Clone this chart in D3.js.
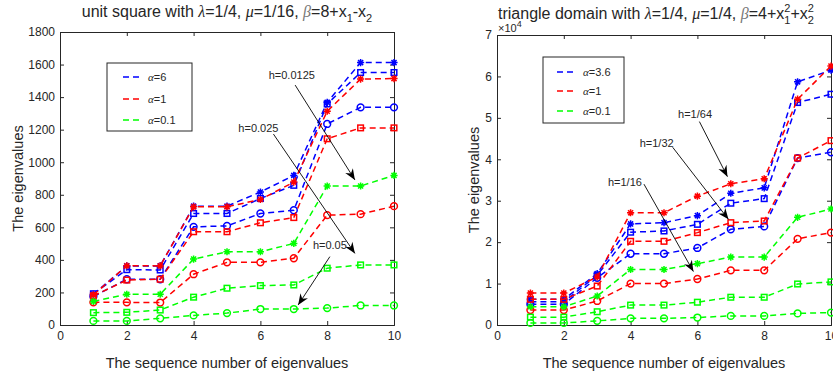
<!DOCTYPE html>
<html><head><meta charset="utf-8">
<script src="https://cdn.jsdelivr.net/npm/d3@7"></script>
<style>
body{margin:0;background:#fff;}
text{font-family:"Liberation Sans",Arial,sans-serif;fill:#262626;}
.greek{font-family:"Liberation Serif","DejaVu Serif",serif;font-style:italic;}
</style></head>
<body>
<svg id="chart" width="833" height="380"></svg>
<script>
// ---------- data ----------
const seqNumbers = [1,2,3,4,5,6,7,8,9,10];
const xTickValues = [0,2,4,6,8,10];
const squareYTicks = [0,200,400,600,800,1000,1200,1400,1600,1800];
const triangleYTicks = [0,1,2,3,4,5,6,7];

// unit square: alpha = 6 (blue), 1 (red), 0.1 (green); h = 0.0125 (star), 0.025 (square), 0.05 (circle)
const sqBlueStar    = [189,363,363,730,730,817,919,1368,1612,1612];
const sqBlueSquare  = [192,340,338,685,685,777,858,1358,1551,1551];
const sqBlueCircle  = [175,281,281,603,609,685,705,1235,1337,1337];
const sqRedStar     = [185,364,363,726,726,771,878,1313,1511,1514];
const sqRedSquare   = [179,276,281,573,573,628,660,1144,1211,1211];
const sqRedCircle   = [139,139,138,312,385,385,410,675,681,730];
const sqGreenStar   = [145,189,189,405,450,450,501,854,854,919];
const sqGreenSquare = [76,78,92,171,226,242,246,349,369,369];
const sqGreenCircle = [25,25,41,59,73,98,98,104,120,120];

// triangle: alpha = 3.6 (blue), 1 (red), 0.1 (green); h = 1/64 (star), 1/32 (square), 1/16 (circle); values x 10^4
const triBlueStar    = [0.62,0.62,1.24,2.44,2.47,2.64,3.18,3.31,5.87,6.15];
const triBlueSquare  = [0.56,0.56,1.20,2.24,2.27,2.43,2.94,3.05,5.37,5.57];
const triBlueCircle  = [0.50,0.50,1.14,1.72,1.72,1.86,2.31,2.38,4.03,4.17];
const triRedStar     = [0.77,0.77,1.16,2.71,2.71,3.11,3.41,3.53,5.45,6.25];
const triRedSquare   = [0.62,0.62,0.94,2.02,2.02,2.23,2.47,2.51,4.03,4.45];
const triRedCircle   = [0.36,0.36,0.58,1.00,1.00,1.11,1.32,1.32,2.08,2.23];
const triGreenStar   = [0.44,0.44,0.70,1.34,1.34,1.48,1.64,1.64,2.60,2.80];
const triGreenSquare = [0.19,0.19,0.32,0.48,0.48,0.55,0.67,0.67,0.99,1.04];
const triGreenCircle = [0.05,0.05,0.10,0.16,0.16,0.18,0.22,0.22,0.28,0.30];

const squareLegend   = ["6","1","0.1"];
const triangleLegend = ["3.6","1","0.1"];

// annotations in data units: label position, arrow start, arrow end
const squareNotes = [
  {label:"h=0.0125", tx:6.94, ty:1536, x1:7.04, y1:1474, x2:8.83, y2:891},
  {label:"h=0.025",  tx:5.94, ty:1208, x1:6.39, y1:1173, x2:8.83, y2:440},
  {label:"h=0.05",   tx:8.08, ty:491,  x1:8.08, y1:420,  x2:7.13, y2:123}
];
const triangleNotes = [
  {label:"h=1/64", tx:5.93, ty:5.09, x1:6.06, y1:4.91, x2:6.90, y2:3.58},
  {label:"h=1/32", tx:4.78, ty:4.39, x1:5.26, y1:4.29, x2:6.93, y2:2.55},
  {label:"h=1/16", tx:3.83, ty:3.46, x1:4.40, y1:3.40, x2:5.88, y2:1.29}
];

const BLUE="#0000ff", RED="#ff0000", GREEN="#00ff00";

// ---------- drawing ----------
const svg = d3.select("#chart");
svg.append("rect").attr("width",833).attr("height",380).attr("fill","#fff");

function starPath(r){
  const d = r*0.7071;
  return `M${-r},0L${r},0M0,${-r}L0,${r}M${-d},${-d}L${d},${d}M${-d},${d}L${d},${-d}`;
}

function drawPanel(cfg){
  const g = svg.append("g");
  const x = d3.scaleLinear().domain([0,10]).range([cfg.left,cfg.right]);
  const y = d3.scaleLinear().domain([0,cfg.yMax]).range([cfg.bottom,cfg.top]);

  const axB = g.append("g").attr("transform",`translate(0,${cfg.bottom})`)
    .call(d3.axisBottom(x).tickValues(xTickValues).tickSize(-4).tickPadding(6).tickFormat(d3.format("d")));
  const axT = g.append("g").attr("transform",`translate(0,${cfg.top})`)
    .call(d3.axisTop(x).tickValues(xTickValues).tickSize(-4).tickFormat(""));
  const axL = g.append("g").attr("transform",`translate(${cfg.left},0)`)
    .call(d3.axisLeft(y).tickValues(cfg.yTicks).tickSize(-4).tickPadding(5).tickFormat(d3.format("d")));
  const axR = g.append("g").attr("transform",`translate(${cfg.right},0)`)
    .call(d3.axisRight(y).tickValues(cfg.yTicks).tickSize(-4).tickFormat(""));
  [axB,axT,axL,axR].forEach(a=>{
    a.selectAll("path,line").attr("stroke","#262626").attr("stroke-width",1);
    a.selectAll("text").attr("font-size",12).attr("fill","#262626")
      .attr("font-family","'Liberation Sans',Arial,sans-serif");
  });

  const sg = g.append("g");
  const line = d3.line().x((d,i)=>x(seqNumbers[i])).y(d=>y(d));
  cfg.series.forEach(s=>{
    sg.append("path").attr("d",line(s.values)).attr("fill","none")
      .attr("stroke",s.color).attr("stroke-width",1.5).attr("stroke-dasharray","6,4");
    const mk = sg.append("g");
    s.values.forEach((v,i)=>{
      const px=x(seqNumbers[i]), py=y(v);
      if(s.marker==="circle"){
        mk.append("circle").attr("cx",px).attr("cy",py).attr("r",3.4)
          .attr("fill","none").attr("stroke",s.color).attr("stroke-width",1.5);
      } else if(s.marker==="square"){
        mk.append("rect").attr("x",px-2.8).attr("y",py-2.8).attr("width",5.6).attr("height",5.6)
          .attr("fill","none").attr("stroke",s.color).attr("stroke-width",1.5);
      } else {
        mk.append("path").attr("transform",`translate(${px},${py})`).attr("d",starPath(3.6))
          .attr("fill","none").attr("stroke",s.color).attr("stroke-width",1.5);
      }
    });
  });

  g.append("text").attr("x",(cfg.left+cfg.right)/2).attr("y",368).attr("text-anchor","middle")
    .attr("font-size",14.5).attr("fill","#333").text("The sequence number of eigenvalues");
  g.append("text").attr("transform",`translate(${cfg.ylabX},${(cfg.top+cfg.bottom)/2}) rotate(-90)`)
    .attr("text-anchor","middle").attr("font-size",14.5).attr("fill","#333").text("The eigenvalues");

  const lg = g.append("g");
  lg.append("rect").attr("x",cfg.legend.x).attr("y",cfg.legend.y).attr("width",cfg.legend.w).attr("height",cfg.legend.h)
    .attr("fill","#fff").attr("stroke","#262626").attr("stroke-width",1);
  const lcolors=[BLUE,RED,GREEN];
  cfg.legendLabels.forEach((lab,i)=>{
    const yy = cfg.legend.y + cfg.legend.rows[i];
    lg.append("line").attr("x1",cfg.legend.x+cfg.legend.l1).attr("x2",cfg.legend.x+cfg.legend.l2)
      .attr("y1",yy).attr("y2",yy).attr("stroke",lcolors[i]).attr("stroke-width",1.5).attr("stroke-dasharray","6,4");
    const t = lg.append("text").attr("x",cfg.legend.x+cfg.legend.tx).attr("y",yy+4).attr("font-size",11);
    t.append("tspan").attr("class","greek").attr("font-style","normal").text("α");
    t.append("tspan").text("="+lab);
  });

  cfg.notes.forEach(n=>{
    g.append("text").attr("x",x(n.tx)).attr("y",y(n.ty)+4).attr("text-anchor","middle")
      .attr("font-size",11).text(n.label);
    const ax1=x(n.x1), ay1=y(n.y1), ax2=x(n.x2), ay2=y(n.y2);
    g.append("line").attr("x1",ax1).attr("y1",ay1).attr("x2",ax2).attr("y2",ay2)
      .attr("stroke","#000").attr("stroke-width",0.9);
    const ang = Math.atan2(ay2-ay1, ax2-ax1)*180/Math.PI;
    g.append("path").attr("transform",`translate(${ax2},${ay2}) rotate(${ang})`)
      .attr("d","M0,0L-11,-4.5L-7.5,0L-11,4.5Z").attr("fill","#000");
  });
  return {x,y,g};
}

function mkSeries(b1,b2,b3,r1,r2,r3,g1,g2,g3){
  return [
    {values:b1,color:BLUE,marker:"star"},{values:b2,color:BLUE,marker:"square"},{values:b3,color:BLUE,marker:"circle"},
    {values:r1,color:RED,marker:"star"},{values:r2,color:RED,marker:"square"},{values:r3,color:RED,marker:"circle"},
    {values:g1,color:GREEN,marker:"star"},{values:g2,color:GREEN,marker:"square"},{values:g3,color:GREEN,marker:"circle"}
  ];
}

drawPanel({
  id:"sq", left:60, right:394, top:32, bottom:325, yMax:1800, yTicks:squareYTicks, ylabX:23,
  series: mkSeries(sqBlueStar,sqBlueSquare,sqBlueCircle,sqRedStar,sqRedSquare,sqRedCircle,sqGreenStar,sqGreenSquare,sqGreenCircle),
  legend:{x:107,y:63,w:85,h:68,rows:[14,36,57],l1:16,l2:36,tx:41},
  legendLabels: squareLegend, notes: squareNotes
});
drawPanel({
  id:"tri", left:497, right:831, top:35, bottom:325, yMax:7, yTicks:triangleYTicks, ylabX:479,
  series: mkSeries(triBlueStar,triBlueSquare,triBlueCircle,triRedStar,triRedSquare,triRedCircle,triGreenStar,triGreenSquare,triGreenCircle),
  legend:{x:543,y:57,w:81,h:66,rows:[15,34,54],l1:14,l2:34,tx:40},
  legendLabels: triangleLegend, notes: triangleNotes
});

// titles
const t1 = svg.append("text").attr("x",227).attr("y",17).attr("text-anchor","middle").attr("font-size",16);
t1.append("tspan").text("unit square with ");
t1.append("tspan").attr("class","greek").text("λ");
t1.append("tspan").text("=1/4, ");
t1.append("tspan").attr("class","greek").text("μ");
t1.append("tspan").text("=1/16, ");
t1.append("tspan").attr("class","greek").attr("fill","#777").text("β");
t1.append("tspan").text("=8+x");
t1.append("tspan").attr("font-size",11).attr("dy",5).text("1");
t1.append("tspan").attr("dy",-5).text("-x");
t1.append("tspan").attr("font-size",11).attr("dy",5).text("2");

const t2 = svg.append("text").attr("x",498).attr("y",19).attr("text-anchor","start").attr("font-size",16);
t2.append("tspan").text("triangle domain with ");
t2.append("tspan").attr("class","greek").text("λ");
t2.append("tspan").text("=1/4, ");
t2.append("tspan").attr("class","greek").text("μ");
t2.append("tspan").text("=1/4, ");
t2.append("tspan").attr("class","greek").attr("fill","#777").text("β");
t2.append("tspan").text("=4+x");
t2.append("tspan").attr("font-size",11).attr("dy",-7).text("2");
t2.append("tspan").attr("font-size",11).attr("dx",-6.1).attr("dy",12).text("1");
t2.append("tspan").attr("dy",-5).text("+x");
t2.append("tspan").attr("font-size",11).attr("dy",-7).text("2");
t2.append("tspan").attr("font-size",11).attr("dx",-6.1).attr("dy",12).text("2");

// exponent label
const ex = svg.append("text").attr("x",498).attr("y",32).attr("font-size",11).attr("fill","#555");
ex.append("tspan").text("×10");
ex.append("tspan").attr("font-size",9).attr("dy",-5).text("4");
</script>
</body></html>
